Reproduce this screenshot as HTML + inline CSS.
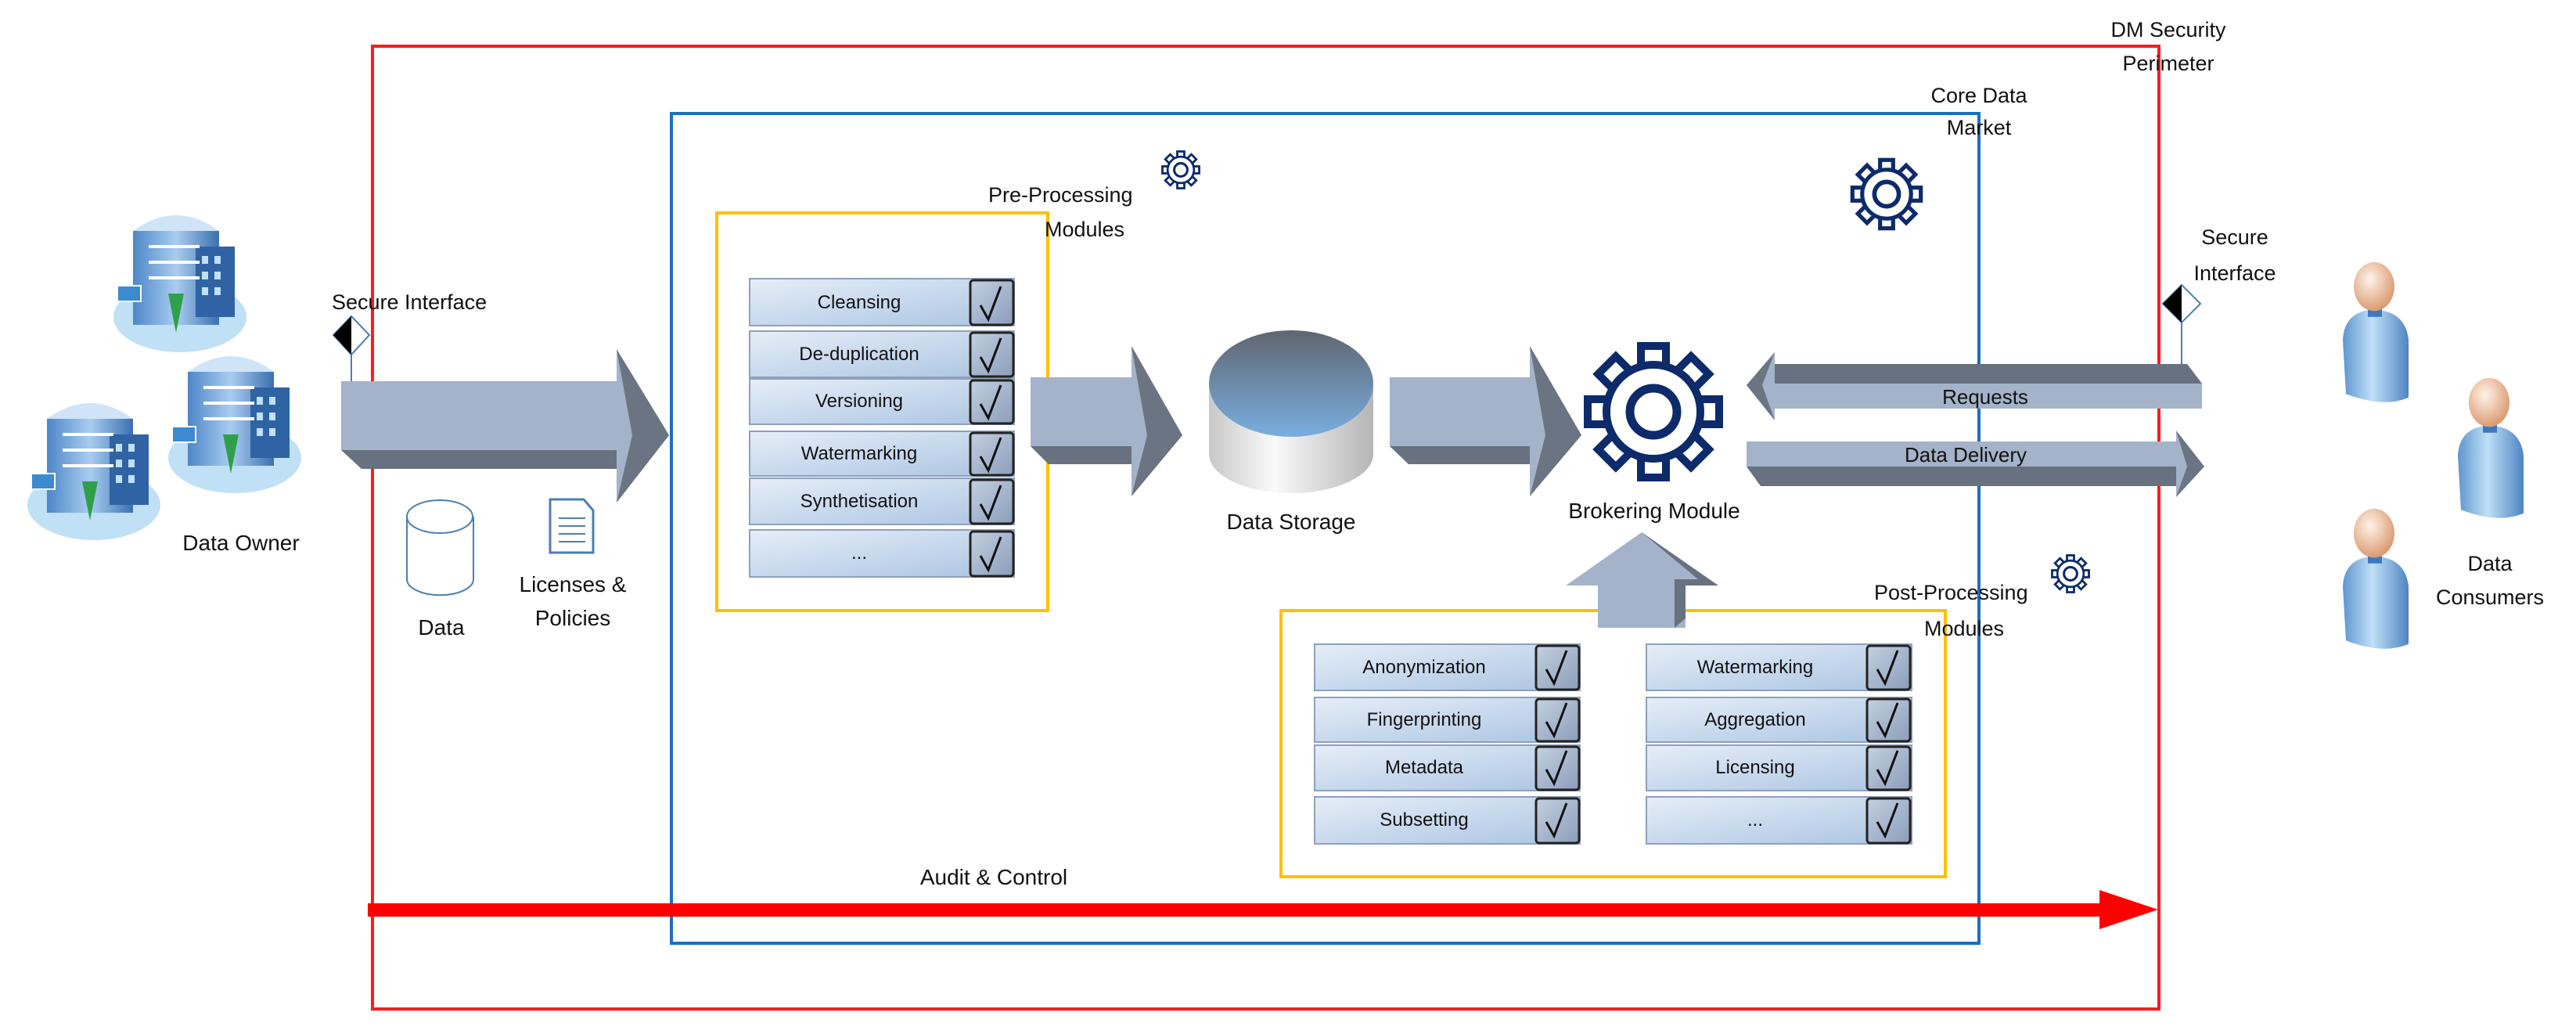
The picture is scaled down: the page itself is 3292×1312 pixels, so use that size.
<!DOCTYPE html>
<html><head><meta charset="utf-8"><style>
html,body{margin:0;padding:0;background:#fff;}
svg{display:block;}
text{font-family:"Liberation Sans",sans-serif;fill:#111;}
</style></head><body>
<svg width="3292" height="1312" viewBox="0 0 3292 1312" xmlns="http://www.w3.org/2000/svg">
<defs>
<linearGradient id="row" x1="0" y1="0" x2="1" y2="1">
<stop offset="0" stop-color="#e6eef8"/><stop offset="1" stop-color="#aac4e2"/></linearGradient>
<linearGradient id="cb" x1="0" y1="0" x2="1" y2="1">
<stop offset="0" stop-color="#c4d0e0"/><stop offset="1" stop-color="#8b9dbb"/></linearGradient>
<linearGradient id="cylTop" x1="0" y1="0" x2="0" y2="1">
<stop offset="0" stop-color="#5f6670"/><stop offset="1" stop-color="#79aee0"/></linearGradient>
<linearGradient id="cylBody" x1="0" y1="0" x2="1" y2="0">
<stop offset="0" stop-color="#c8c8c8"/><stop offset="0.4" stop-color="#fafafa"/><stop offset="1" stop-color="#b5b5b5"/></linearGradient>
<linearGradient id="bld" x1="0" y1="0" x2="1" y2="0">
<stop offset="0" stop-color="#4d86c8"/><stop offset="0.5" stop-color="#a9cdf0"/><stop offset="1" stop-color="#3b6fb0"/></linearGradient>
<linearGradient id="body" x1="0" y1="0" x2="1" y2="0">
<stop offset="0" stop-color="#5f95cf"/><stop offset="0.45" stop-color="#bfe0f7"/><stop offset="1" stop-color="#4f84c2"/></linearGradient>
<radialGradient id="head" cx="0.4" cy="0.35" r="0.7">
<stop offset="0" stop-color="#fff3e8"/><stop offset="1" stop-color="#d9946a"/></radialGradient>
<g id="chk"><path d="M-14 2 L-4 20 L12 -22" fill="none" stroke="#111" stroke-width="3"/></g>
<g id="bldg">
<ellipse cx="80" cy="150" rx="85" ry="45" fill="#bfe0f5"/>
<rect x="20" y="40" width="110" height="120" fill="url(#bld)"/>
<path d="M20 40 Q75 0 130 40 Z" fill="#cfe4f7"/>
<rect x="100" y="60" width="50" height="90" fill="#2f63a3"/>
<g fill="#bfe0ff"><rect x="108" y="72" width="8" height="10"/><rect x="124" y="72" width="8" height="10"/><rect x="108" y="92" width="8" height="10"/><rect x="124" y="92" width="8" height="10"/><rect x="108" y="112" width="8" height="10"/><rect x="124" y="112" width="8" height="10"/></g>
<path d="M40 60 H105 M40 80 H105 M40 100 H105" stroke="#fff" stroke-width="4"/>
<path d="M75 170 L65 120 L85 120 Z" fill="#2ea04a"/>
<rect x="0" y="110" width="30" height="20" fill="#3c8ad0" stroke="#fff" stroke-width="2"/>
</g>
<g id="person">
<path d="M8 110 Q10 70 48 68 Q88 70 92 110 L92 190 Q60 205 12 185 Z" fill="url(#body)"/>
<rect x="40" y="64" width="18" height="14" fill="#3c78c0"/>
<ellipse cx="48" cy="36" rx="26" ry="34" fill="url(#head)"/>
</g>
</defs>

<!-- perimeter boxes -->
<rect x="476" y="59" width="2283" height="1230" fill="none" stroke="#ff1a1a" stroke-width="4"/>
<rect x="858" y="145" width="1671" height="1060" fill="none" stroke="#1a6fc0" stroke-width="4"/>
<rect x="916" y="272" width="423" height="508" fill="none" stroke="#ffc000" stroke-width="4"/>
<rect x="1637" y="780" width="849" height="340" fill="none" stroke="#ffc000" stroke-width="4"/>

<text x="2771" y="47" font-size="27" text-anchor="middle">DM Security</text>
<text x="2771" y="90" font-size="27" text-anchor="middle">Perimeter</text>
<text x="2529" y="131" font-size="27" text-anchor="middle">Core Data</text>
<text x="2529" y="172" font-size="27" text-anchor="middle">Market</text>

<!-- buildings -->
<g transform="translate(150,255)"><use href="#bldg"/></g>
<g transform="translate(220,435)"><use href="#bldg"/></g>
<g transform="translate(40,495)"><use href="#bldg"/></g>
<text x="308" y="703" font-size="28" text-anchor="middle">Data Owner</text>

<!-- secure interface left -->
<text x="424" y="395" font-size="27">Secure Interface</text>
<line x1="449" y1="450" x2="449" y2="504" stroke="#4a7fb5" stroke-width="2"/>
<path d="M449 404 L472 428 L449 453 L426 428 Z" fill="#fff" stroke="#4a7fb5" stroke-width="2"/>
<path d="M449 404 L426 428 L449 453 Z" fill="#000"/>

<!-- arrow 1 -->
<path d="M436 487 H788 V446 L855 556 L788 642 V599 H462 L436 575 Z" fill="#a4b3c9"/>
<path d="M436 575 H788 V599 H462 Z" fill="#68717f"/>
<path d="M788 446 L855 556 L788 642 L808 556 Z" fill="#6b7483"/>

<!-- data cylinder & doc -->
<path d="M520 660 V740 A42 20 0 0 0 605 740 V660" fill="#fff" stroke="#4a7fb5" stroke-width="2"/>
<ellipse cx="562" cy="660" rx="42" ry="21" fill="#fff" stroke="#4a7fb5" stroke-width="2"/>
<text x="564" y="811" font-size="28" text-anchor="middle">Data</text>
<path d="M703 638 H746 L758 652 V706 H703 Z" fill="#fff" stroke="#4a7fb5" stroke-width="3"/>
<path d="M714 662 H748 M714 672 H748 M714 682 H748 M714 692 H748" stroke="#4a7fb5" stroke-width="2"/>
<text x="732" y="756" font-size="28" text-anchor="middle">Licenses &amp;</text>
<text x="732" y="799" font-size="28" text-anchor="middle">Policies</text>

<!-- pre-processing -->
<text x="1263" y="258" font-size="27">Pre-Processing</text>
<text x="1335" y="302" font-size="27">Modules</text>

<g font-size="24">
<g><rect x="958" y="356" width="338" height="60" fill="url(#row)" stroke="#8ea0bb" stroke-width="2"/><rect x="1240" y="358" width="55" height="57" rx="4" fill="url(#cb)" stroke="#222" stroke-width="3"/><use href="#chk" x="1267" y="388"/><text x="1098" y="394" text-anchor="middle">Cleansing</text></g>
<g><rect x="958" y="423" width="338" height="59" fill="url(#row)" stroke="#8ea0bb" stroke-width="2"/><rect x="1240" y="425" width="55" height="56" rx="4" fill="url(#cb)" stroke="#222" stroke-width="3"/><use href="#chk" x="1267" y="454"/><text x="1098" y="460" text-anchor="middle">De-duplication</text></g>
<g><rect x="958" y="484" width="338" height="58" fill="url(#row)" stroke="#8ea0bb" stroke-width="2"/><rect x="1240" y="486" width="55" height="55" rx="4" fill="url(#cb)" stroke="#222" stroke-width="3"/><use href="#chk" x="1267" y="514"/><text x="1098" y="520" text-anchor="middle">Versioning</text></g>
<g><rect x="958" y="551" width="338" height="57" fill="url(#row)" stroke="#8ea0bb" stroke-width="2"/><rect x="1240" y="553" width="55" height="54" rx="4" fill="url(#cb)" stroke="#222" stroke-width="3"/><use href="#chk" x="1267" y="581"/><text x="1098" y="587" text-anchor="middle">Watermarking</text></g>
<g><rect x="958" y="611" width="338" height="59" fill="url(#row)" stroke="#8ea0bb" stroke-width="2"/><rect x="1240" y="613" width="55" height="56" rx="4" fill="url(#cb)" stroke="#222" stroke-width="3"/><use href="#chk" x="1267" y="642"/><text x="1098" y="648" text-anchor="middle">Synthetisation</text></g>
<g><rect x="958" y="677" width="338" height="60" fill="url(#row)" stroke="#8ea0bb" stroke-width="2"/><rect x="1240" y="679" width="55" height="57" rx="4" fill="url(#cb)" stroke="#222" stroke-width="3"/><use href="#chk" x="1267" y="708"/><text x="1098" y="714" text-anchor="middle">...</text></g>
</g>

<!-- arrow 2 -->
<path d="M1317 482 H1446 V442 L1511 556 L1446 634 V593 H1340 L1317 570 Z" fill="#a4b3c9"/>
<path d="M1317 570 H1446 V593 H1340 Z" fill="#68717f"/>
<path d="M1446 442 L1511 556 L1446 634 L1466 556 Z" fill="#6b7483"/>

<!-- storage -->
<path d="M1545 490 V580 A105 50 0 0 0 1755 580 V490 Z" fill="url(#cylBody)"/>
<ellipse cx="1650" cy="490" rx="105" ry="68" fill="url(#cylTop)"/>
<text x="1650" y="676" font-size="28" text-anchor="middle">Data Storage</text>

<!-- arrow 3 -->
<path d="M1776 482 H1955 V442 L2021 556 L1955 634 V593 H1800 L1776 570 Z" fill="#a4b3c9"/>
<path d="M1776 570 H1955 V593 H1800 Z" fill="#68717f"/>
<path d="M1955 442 L2021 556 L1955 634 L1975 556 Z" fill="#6b7483"/>

<!-- gears -->
<g id="gearBig" transform="translate(2113,526)">
<g fill="#fff" stroke="#0d2a6b" stroke-width="10">
<rect x="-16" y="-84" width="32" height="40" transform="rotate(0)"/>
<rect x="-16" y="-84" width="32" height="40" transform="rotate(45)"/>
<rect x="-16" y="-84" width="32" height="40" transform="rotate(90)"/>
<rect x="-16" y="-84" width="32" height="40" transform="rotate(135)"/>
<rect x="-16" y="-84" width="32" height="40" transform="rotate(180)"/>
<rect x="-16" y="-84" width="32" height="40" transform="rotate(225)"/>
<rect x="-16" y="-84" width="32" height="40" transform="rotate(270)"/>
<rect x="-16" y="-84" width="32" height="40" transform="rotate(315)"/>
<circle r="60"/>
</g>
<circle r="55" fill="#fff"/>
<circle r="30" fill="none" stroke="#0d2a6b" stroke-width="11"/>
</g>
<use href="#gearBig" transform="translate(2411,248) scale(0.52) translate(-2113,-526)"/>
<use href="#gearBig" transform="translate(1509,217) scale(0.28) translate(-2113,-526)"/>
<use href="#gearBig" transform="translate(2646,733) scale(0.28) translate(-2113,-526)"/>
<text x="2114" y="662" font-size="28" text-anchor="middle">Brokering Module</text>

<!-- requests arrow -->
<path d="M2268 465 H2795 L2814 490 V522 H2268 V537 L2232 492 L2268 450 Z" fill="#a4b3c9"/>
<path d="M2268 465 H2795 L2814 490 H2268 Z" fill="#68717f"/>
<path d="M2268 450 L2232 492 L2268 537 L2252 492 Z" fill="#6b7483"/>
<text x="2537" y="516" font-size="26" text-anchor="middle">Requests</text>

<!-- data delivery arrow -->
<path d="M2232 564 H2781 V550 L2817 596 L2781 635 V621 H2250 L2232 596 Z" fill="#a4b3c9"/>
<path d="M2232 596 H2781 V621 H2250 Z" fill="#68717f"/>
<path d="M2781 550 L2817 596 L2781 635 L2795 596 Z" fill="#6b7483"/>
<text x="2512" y="590" font-size="26" text-anchor="middle">Data Delivery</text>

<!-- up arrow -->
<path d="M2042 802 V748 H2001 L2098 680 L2196 748 H2154 V802 Z" fill="#a4b3c9"/>
<path d="M2098 680 L2196 748 H2154 V790 L2140 802 V740 H2170 Z" fill="#68717f"/>

<!-- secure interface right -->
<text x="2856" y="312" font-size="27" text-anchor="middle">Secure</text>
<text x="2856" y="358" font-size="27" text-anchor="middle">Interface</text>
<line x1="2788" y1="410" x2="2788" y2="466" stroke="#4a7fb5" stroke-width="2"/>
<path d="M2788 364 L2812 388 L2788 412 L2764 388 Z" fill="#fff" stroke="#4a7fb5" stroke-width="2"/>
<path d="M2788 364 L2764 388 L2788 412 Z" fill="#000"/>

<!-- persons -->
<g transform="translate(2986,333) scale(1,0.92)"><use href="#person"/></g>
<g transform="translate(3133,481) scale(1,0.92)"><use href="#person"/></g>
<g transform="translate(2986,648) scale(1,0.92)"><use href="#person"/></g>
<text x="3182" y="729" font-size="27" text-anchor="middle">Data</text>
<text x="3182" y="772" font-size="27" text-anchor="middle">Consumers</text>

<!-- post-processing -->
<text x="2395" y="766" font-size="27">Post-Processing</text>
<text x="2510" y="812" font-size="27" text-anchor="middle">Modules</text>

<g font-size="24">
<g><rect x="1680" y="823" width="339" height="59" fill="url(#row)" stroke="#8ea0bb" stroke-width="2"/><rect x="1963" y="825" width="55" height="56" rx="4" fill="url(#cb)" stroke="#222" stroke-width="3"/><use href="#chk" x="1990" y="853"/><text x="1820" y="860" text-anchor="middle">Anonymization</text></g>
<g><rect x="1680" y="891" width="339" height="57" fill="url(#row)" stroke="#8ea0bb" stroke-width="2"/><rect x="1963" y="893" width="55" height="54" rx="4" fill="url(#cb)" stroke="#222" stroke-width="3"/><use href="#chk" x="1990" y="920"/><text x="1820" y="927" text-anchor="middle">Fingerprinting</text></g>
<g><rect x="1680" y="952" width="339" height="58" fill="url(#row)" stroke="#8ea0bb" stroke-width="2"/><rect x="1963" y="954" width="55" height="55" rx="4" fill="url(#cb)" stroke="#222" stroke-width="3"/><use href="#chk" x="1990" y="981"/><text x="1820" y="988" text-anchor="middle">Metadata</text></g>
<g><rect x="1680" y="1018" width="339" height="60" fill="url(#row)" stroke="#8ea0bb" stroke-width="2"/><rect x="1963" y="1020" width="55" height="57" rx="4" fill="url(#cb)" stroke="#222" stroke-width="3"/><use href="#chk" x="1990" y="1048"/><text x="1820" y="1055" text-anchor="middle">Subsetting</text></g>
<g><rect x="2104" y="823" width="339" height="59" fill="url(#row)" stroke="#8ea0bb" stroke-width="2"/><rect x="2386" y="825" width="55" height="56" rx="4" fill="url(#cb)" stroke="#222" stroke-width="3"/><use href="#chk" x="2413" y="853"/><text x="2243" y="860" text-anchor="middle">Watermarking</text></g>
<g><rect x="2104" y="891" width="339" height="57" fill="url(#row)" stroke="#8ea0bb" stroke-width="2"/><rect x="2386" y="893" width="55" height="54" rx="4" fill="url(#cb)" stroke="#222" stroke-width="3"/><use href="#chk" x="2413" y="920"/><text x="2243" y="927" text-anchor="middle">Aggregation</text></g>
<g><rect x="2104" y="952" width="339" height="58" fill="url(#row)" stroke="#8ea0bb" stroke-width="2"/><rect x="2386" y="954" width="55" height="55" rx="4" fill="url(#cb)" stroke="#222" stroke-width="3"/><use href="#chk" x="2413" y="981"/><text x="2243" y="988" text-anchor="middle">Licensing</text></g>
<g><rect x="2104" y="1018" width="339" height="60" fill="url(#row)" stroke="#8ea0bb" stroke-width="2"/><rect x="2386" y="1020" width="55" height="57" rx="4" fill="url(#cb)" stroke="#222" stroke-width="3"/><use href="#chk" x="2413" y="1048"/><text x="2243" y="1055" text-anchor="middle">...</text></g>
</g>

<!-- audit arrow -->
<text x="1270" y="1130" font-size="28" text-anchor="middle">Audit &amp; Control</text>
<rect x="470" y="1154" width="2215" height="17" fill="#ff0000"/>
<path d="M2683 1137 L2758 1162 L2683 1187 Z" fill="#ff0000"/>
</svg>
</body></html>
